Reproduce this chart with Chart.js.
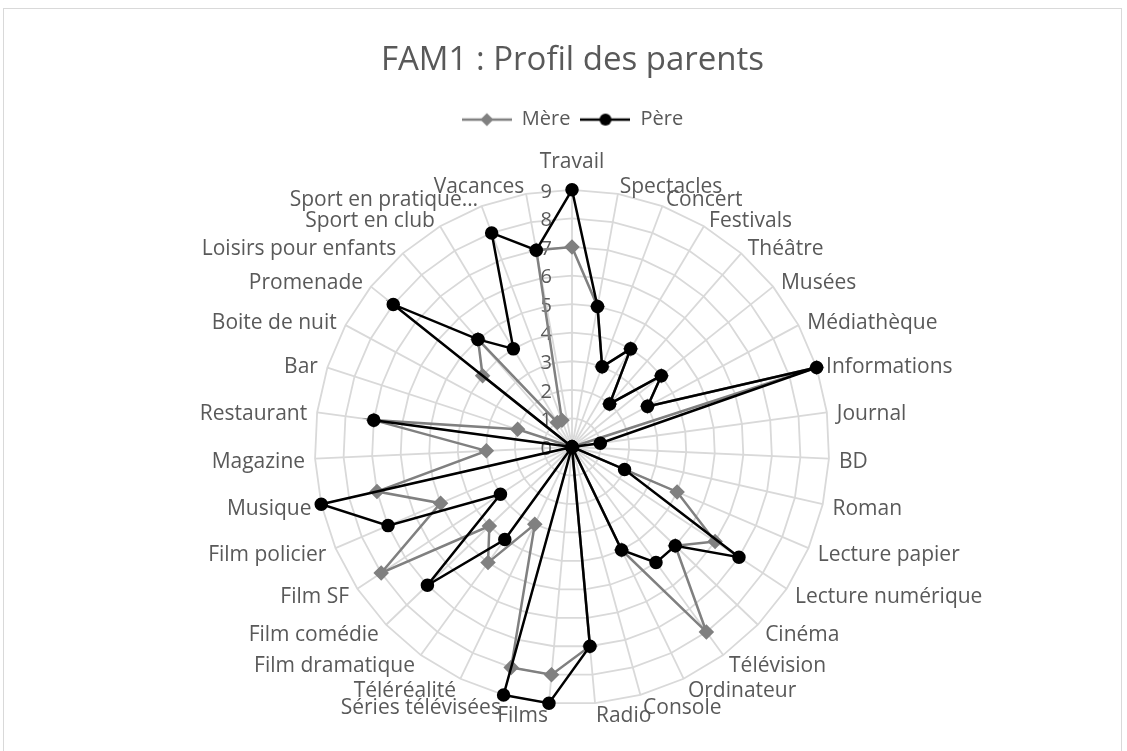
<!DOCTYPE html>
<html>
<head>
    <title>FAM1 : Profil des parents</title>
    <style>
        body {
            margin: 0;
            background-color: #ffffff;
            font-family: "Open Sans", sans-serif;
        }
        .cadre {
            position: absolute;
            left: 3px;
            top: 8px;
            width: 1119px;
            height: 760px;
            border: 1px solid #d9d9d9;
            box-sizing: border-box;
        }
        #profil {
            position: absolute;
            left: 0;
            top: 0;
        }
    </style>
</head>
<body>
    <div class="cadre"></div>
    <canvas id="profil" width="1127" height="751"></canvas>

    <script src="https://cdn.jsdelivr.net/npm/chart.js"></script>
    <script>
        // categories, dans l'ordre des aiguilles d'une montre depuis le haut
        var categories = ['Travail', 'Spectacles', 'Concert', 'Festivals', 'Théâtre', 'Musées',
            'Médiathèque', 'Informations', 'Journal', 'BD', 'Roman', 'Lecture papier',
            'Lecture numérique', 'Cinéma', 'Télévision', 'Ordinateur', 'Console', 'Radio',
            'Films', 'Séries télévisées', 'Téléréalité', 'Film dramatique', 'Film comédie',
            'Film SF', 'Film policier', 'Musique', 'Magazine', 'Restaurant', 'Bar',
            'Boite de nuit', 'Promenade', 'Loisirs pour enfants', 'Sport en club',
            'Sport en pratique…', 'Vacances'];

        var mere = [7, 5, 3, 4, 2, 4, 3, 9, 0, 0, 0, 4, 6, 5, 8, 4, 0, 7, 8, 8,
            3, 5, 4, 8, 5, 7, 3, 7, 2, 0, 4, 5, 1, 1, 7];

        var pere = [9, 5, 3, 4, 2, 4, 3, 9, 1, 0, 0, 2, 7, 5, 5, 4, 0, 7, 9, 9,
            0, 4, 7, 3, 7, 9, 0, 7, 0, 0, 8, 5, 4, 8, 7];

        var graduations = [0, 1, 2, 3, 4, 5, 6, 7, 8, 9];

        var gris = '#808080';
        var texte = '#595959';

        // petit symbole de légende : trait + marqueur, comme dans Excel
        function symbole(couleur, forme) {
            var c = document.createElement('canvas');
            c.width = 50;
            c.height = 16;
            var g = c.getContext('2d');
            g.strokeStyle = couleur;
            g.lineWidth = 2.5;
            g.beginPath();
            g.moveTo(0, 8);
            g.lineTo(50, 8);
            g.stroke();
            g.fillStyle = couleur;
            g.beginPath();
            if (forme === 'losange') {
                g.moveTo(25, 1.5);
                g.lineTo(31.5, 8);
                g.lineTo(25, 14.5);
                g.lineTo(18.5, 8);
                g.closePath();
            } else {
                g.arc(25, 8, 6, 0, Math.PI * 2);
            }
            g.fill();
            return c;
        }
        var symboles = [symbole(gris, 'losange'), symbole('#000000', 'rond')];

        // graduations à gauche de l'axe vertical + étiquettes placées comme dans Excel
        var textesRadar = {
            id: 'textesRadar',
            beforeDatasetsDraw: function (chart) {
                var r = chart.scales.r;
                var ctx = chart.ctx;
                ctx.save();
                ctx.font = '20px "Open Sans"';
                ctx.fillStyle = texte;
                ctx.textAlign = 'right';
                ctx.textBaseline = 'middle';
                graduations.forEach(function (v) {
                    var d = r.getDistanceFromCenterForValue(v);
                    ctx.fillText(String(v), r.xCenter - 20, r.yCenter - d + 2);
                });

                ctx.font = '21px "Open Sans"';
                var R = r.drawingArea;
                categories.forEach(function (nom, i) {
                    var p = r.getPointPosition(i, R);
                    var ux = (p.x - r.xCenter) / R;
                    var uy = (p.y - r.yCenter) / R;
                    if (Math.abs(ux) < 0.01) {
                        ctx.textAlign = 'center';
                        ctx.fillText(nom, p.x, p.y + (uy < 0 ? -28 : 12));
                    } else {
                        ctx.textAlign = ux > 0 ? 'left' : 'right';
                        ctx.fillText(nom, p.x + 10 * ux, p.y + 10 * uy + 3);
                    }
                });
                ctx.restore();
            }
        };

        // un peu plus d'espace sous la légende
        var espaceLegende = {
            id: 'espaceLegende',
            beforeInit: function (chart) {
                var fitOrig = chart.legend.fit;
                chart.legend.fit = function () {
                    fitOrig.bind(chart.legend)();
                    this.height += 18;
                };
            }
        };

        new Chart(document.getElementById('profil'), {
            type: 'radar',
            data: {
                labels: categories,
                datasets: [{
                    label: 'Mère',
                    data: mere,
                    order: 1,
                    borderColor: gris,
                    backgroundColor: gris,
                    borderWidth: 2.5,
                    pointStyle: 'rectRot',
                    pointRadius: 6,
                    pointBackgroundColor: gris,
                    pointBorderColor: gris,
                    fill: false
                }, {
                    label: 'Père',
                    data: pere,
                    order: 0,
                    borderColor: '#000000',
                    backgroundColor: '#000000',
                    borderWidth: 2.5,
                    pointStyle: 'circle',
                    pointRadius: 5.5,
                    pointBackgroundColor: '#000000',
                    pointBorderColor: '#000000',
                    fill: false
                }]
            },
            options: {
                responsive: false,
                animation: false,
                layout: {
                    padding: { top: 41, bottom: 15, left: 18, right: 0 }
                },
                plugins: {
                    title: {
                        display: true,
                        text: 'FAM1 : Profil des parents',
                        color: texte,
                        font: { family: 'Open Sans', size: 33, weight: 'normal' },
                        padding: { top: 0, bottom: 19 }
                    },
                    legend: {
                        position: 'top',
                        labels: {
                            usePointStyle: true,
                            pointStyleWidth: 50,
                            color: texte,
                            font: { family: 'Open Sans', size: 20 },
                            padding: 10,
                            generateLabels: function (chart) {
                                return chart.data.datasets.map(function (ds, i) {
                                    return {
                                        text: ds.label,
                                        pointStyle: symboles[i],
                                        fillStyle: ds.borderColor,
                                        strokeStyle: ds.borderColor,
                                        lineWidth: 0,
                                        hidden: false,
                                        datasetIndex: i,
                                        fontColor: texte
                                    };
                                });
                            }
                        }
                    },
                    tooltip: { enabled: false }
                },
                elements: {
                    line: { tension: 0 }
                },
                scales: {
                    r: {
                        min: 0,
                        max: 9,
                        beginAtZero: true,
                        ticks: {
                            stepSize: 1,
                            display: false
                        },
                        grid: {
                            color: '#d9d9d9',
                            lineWidth: 1.8
                        },
                        angleLines: {
                            color: '#d9d9d9',
                            lineWidth: 1.8
                        },
                        // gardées pour le calcul du rayon, dessinées par textesRadar
                        pointLabels: {
                            color: 'rgba(0,0,0,0)',
                            font: { family: 'Open Sans', size: 21 },
                            padding: 6
                        }
                    }
                }
            },
            plugins: [espaceLegende, textesRadar]
        });
    </script>
</body>
</html>
